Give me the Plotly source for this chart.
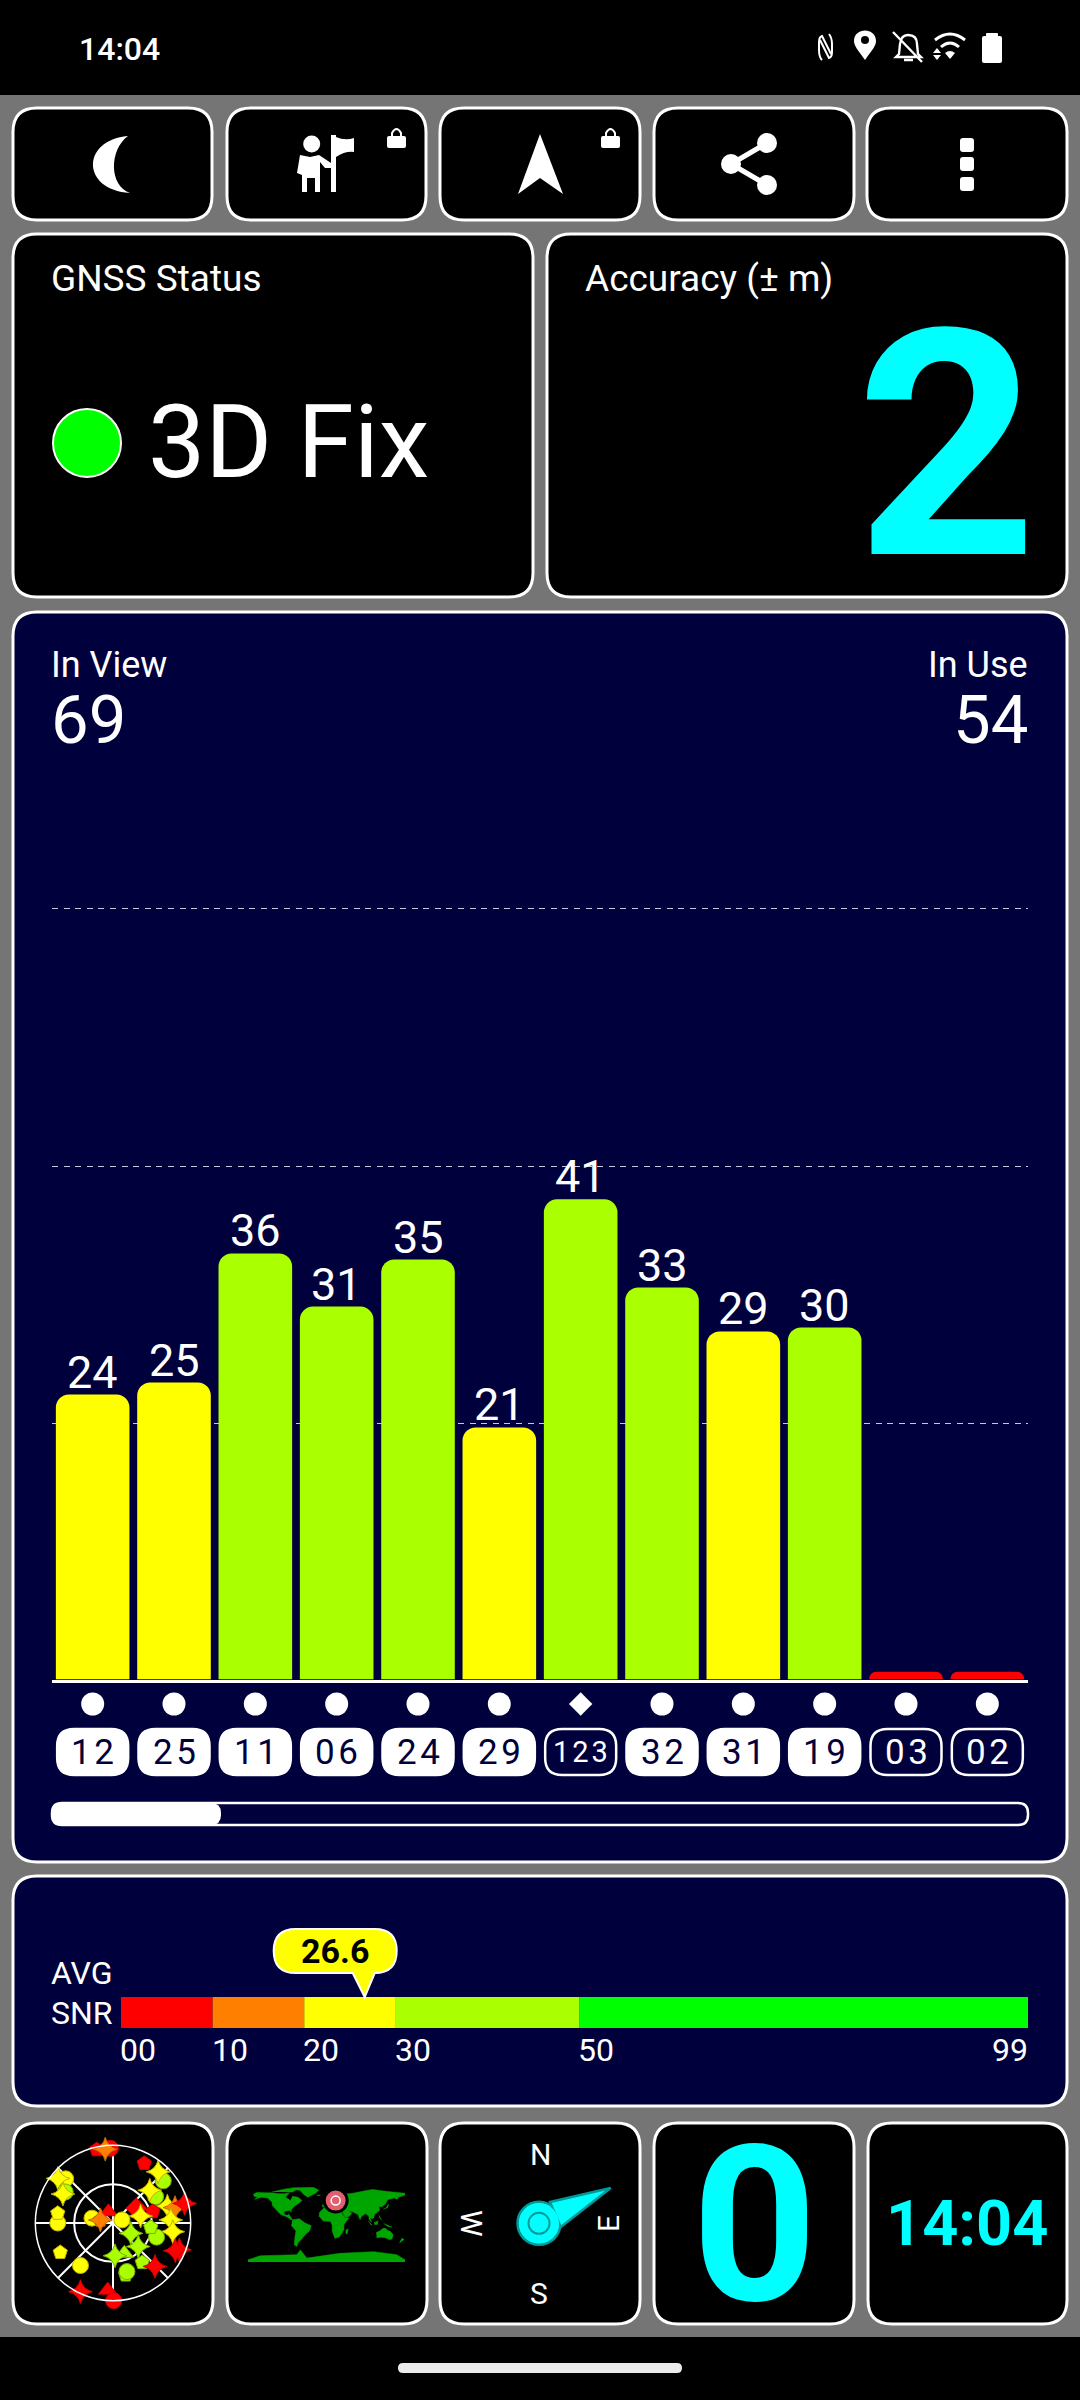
import plotly.graph_objects as go

# bar chart values
prn_labels = ["12", "25", "11", "06", "24", "29", "123", "32", "31", "19", "03", "02"]
snr_values = [24.05, 25.06, 35.95, 31.47, 35.44, 21.27, 40.52, 33.08, 29.37, 29.7, 0.65, 0.65]
snr_labels = ["24", "25", "36", "31", "35", "21", "41", "33", "29", "30", "", ""]
bar_colors = ["#ffff00", "#ffff00", "#aaff00", "#aaff00", "#aaff00", "#ffff00",
              "#aaff00", "#aaff00", "#ffff00", "#aaff00", "#ff0000", "#ff0000"]
in_use = [True, True, True, True, True, True, False, True, True, True, False, False]
sat_symbols = ["circle"] * 6 + ["diamond"] + ["circle"] * 5
grid_values = [21.6, 43.3, 65.1]

# average snr scale
avg_snr = 26.6
scale_start = [0, 10, 20, 30, 50]
scale_len = [10, 10, 10, 20, 49]
scale_colors = ["#ff0000", "#ff8000", "#ffff00", "#aaff00", "#00ff00"]
scale_ticks = [0, 10, 20, 30, 50, 99]
scale_tick_text = ["00", "10", "20", "30", "50", "99"]

# sky plot: azimuth, elevation
sky_az = [347.5, 358, 354, 27.7, 50, 41.4, 313, 309, 303, 300, 58.3, 48.3, 72.7, 76, 74.7,
          338, 58, 74, 270, 280, 283, 283, 283, 71, 76, 87, 98.3, 108, 96.6, 120, 133,
          159.5, 176.5, 143.5, 166.3, 164, 112, 114, 136, 240.8, 217.4, 205.4, 184.5, 179.5]
sky_el = [3, 3.5, 4, 12, 14, 11, 15, 8, 24, 23, 32, 33, 24, 16, 4,
          76, 58, 42, 26, 25, 65, 75, 75, 79, 57, 23, 20, 37, 46, 66, 50,
          52.5, 52, 33, 28, 31.5, 7, 11, 20, 20, 28, 2, 12, 0]
sky_sym = ["pentagon", "circle", "star-diamond", "pentagon", "circle", "star-diamond", "circle", "star-diamond",
           "circle", "star-diamond", "circle", "star-diamond", "star-diamond", "star-diamond", "star-diamond",
           "triangle-up", "diamond", "pentagon", "circle", "pentagon", "circle", "pentagon", "star-diamond",
           "circle", "star-diamond", "star-diamond", "star-diamond", "circle", "pentagon", "star-diamond", "star-diamond",
           "triangle-up", "star-diamond", "pentagon", "pentagon", "circle", "star-diamond", "star-diamond", "star-diamond",
           "pentagon", "circle", "star-diamond", "triangle-up", "circle"]
sky_col = ["#ff0000", "#ff0000", "#ff8000", "#ff0000", "#aaff00", "#ffff00", "#ffff00", "#ffff00",
           "#aaff00", "#ffff00", "#aaff00", "#ffff00", "#ffff00", "#ff8000", "#ff0000",
           "#ff0000", "#ff0000", "#ff0000", "#ffff00", "#ffff00", "#ffff00", "#ff8000", "#ff8000",
           "#ffff00", "#ffff00", "#ffff00", "#ffff00", "#aaff00", "#aaff00", "#aaff00", "#aaff00",
           "#aaff00", "#aaff00", "#aaff00", "#aaff00", "#aaff00", "#ff0000", "#ff0000", "#ff0000",
           "#ffff00", "#ffff00", "#ff0000", "#ff0000", "#ff0000"]
edge_col = {"#ff0000": "#d00000", "#ff8000": "#c06800", "#ffff00": "#c0b000", "#aaff00": "#78b000"}

# world map outline, rough lon/lat
map_lon = [-168, -160, -140, -125, -110, -95, -85, -94, -82, -78, -65, -56, -65, -75, -81, -81, -84, -97, -97, -90, -87, -83, -78, -82, -90, -105, -112, -118, -124, -125, -135, -150, -165, -158, -166, None,
           -125, -100, -75, -62, -78, -95, None,
           -73, -60, -30, -18, -25, -43, -52, -60, None,
           -78, -62, -50, -35, -39, -48, -58, -65, -68, -74, -72, -70, -81, None,
           -17, -16, -6, 10, 11, 22, 32, 37, 43, 51, 40, 40, 35, 28, 19, 13, 13, 9, -8, None,
           -9, -9, 0, -4, 8, 5, 15, 28, 40, 60, 80, 105, 140, 180, 180, 165, 162, 155, 140, 135, 127, 120, 122, 110, 108, 104, 100, 103, 98, 97, 90, 80, 77, 72, 62, 50, 58, 52, 43, 35, 36, 27, 23, 20, 13, 18, 12, 3, 0, -5, None,
           95, 105, 100, None, 109, 118, 117, 110, None, 131, 150, 140, None, 120, 126, 121, None, 130, 141, 142, 138, None,
           -5, 1, -3, -6, None, -23, -14, -18, None, 44, 50, 47, 44, None, 172, 178, 167, None,
           114, 122, 130, 136, 140, 146, 153, 150, 144, 135, 125, 115, None,
           -180, -152, -68, -60, -45, 31, 108, 161, 180, 180, -180]
map_lat = [66, 71, 70, 70, 68, 68, 70, 60, 52, 62, 60, 52, 45, 38, 31, 25, 30, 27, 20, 18, 21, 15, 8, 8, 14, 20, 28, 33, 40, 49, 58, 60, 55, 59, 62, None,
           72, 78, 82, 82, 72, 72, None,
           78, 82, 83, 76, 69, 60, 66, 75, None,
           8, 10, 1, -6, -18, -26, -38, -45, -54, -50, -30, -18, -5, None,
           15, 25, 35, 37, 33, 32, 31, 20, 12, 12, -3, -15, -24, -33, -35, -18, -5, 4, 5, None,
           37, 43, 44, 48, 54, 60, 68, 71, 67, 69, 73, 78, 73, 69, 65, 60, 55, 58, 54, 44, 38, 38, 30, 20, 12, 10, 13, 2, 8, 16, 22, 15, 8, 20, 25, 30, 23, 16, 13, 28, 36, 37, 38, 40, 45, 40, 42, 43, 39, 36, None,
           5, -5, -2, None, 1, 5, -3, -3, None, -1, -9, -8, None, 18, 8, 13, None, 32, 36, 44, 37, None,
           50, 52, 58, 56, None, 65, 65, 63, None, -16, -14, -25, -24, None, -35, -38, -46, None,
           -22, -18, -12, -12, -17, -19, -27, -37, -38, -34, -33, -34, None,
           -85, -75.7, -73, -62, -81, -70, -66, -73, -85, -90, -90]
here_lon = [21]
here_lat = [52]

HAIR = "\u200a"


def rrect(x0, y0, x1, y1, r):
    return (f"M{x0 + r},{y0} L{x1 - r},{y0} Q{x1},{y0} {x1},{y0 + r} L{x1},{y1 - r} Q{x1},{y1} {x1 - r},{y1} "
            f"L{x0 + r},{y1} Q{x0},{y1} {x0},{y1 - r} L{x0},{y0 + r} Q{x0},{y0} {x0 + r},{y0} Z")


shapes = []
annos = []


def box(x0, y0, x1, y1, fill="black", r=24):
    shapes.append(dict(type="path", path=rrect(x0, y0, x1, y1, r), xref="x", yref="y", layer="below",
                       fillcolor=fill, line=dict(color="white", width=3)))


def icon(path, fill="white", line=None, width=0):
    shapes.append(dict(type="path", path=path, xref="x", yref="y", fillcolor=fill,
                       line=dict(color=line or "rgba(0,0,0,0)", width=width)))


def stroke(path, width=2.5, color="white"):
    shapes.append(dict(type="path", path=path, xref="x", yref="y", line=dict(color=color, width=width, )))


def dot(cx, cy, r, fill="white", line=None, width=0):
    shapes.append(dict(type="circle", x0=cx - r, x1=cx + r, y0=cy - r, y1=cy + r, xref="x", yref="y",
                       fillcolor=fill, line=dict(color=line or "rgba(0,0,0,0)", width=width)))


def label(text, x, y, size, color="white", anchor="left", weight=400, angle=0, xref="x"):
    shift = {"left": -3, "right": 2, "center": 0}[anchor]
    annos.append(dict(text=text, x=x, y=y, xref=xref, yref="y", showarrow=False, xanchor=anchor, yanchor="middle",
                      xshift=shift, textangle=angle, font=dict(family="Roboto", size=size, color=color, weight=weight)))


# page background
shapes.append(dict(type="rect", x0=0, x1=1080, y0=95, y1=2337, xref="x", yref="y", layer="below",
                   fillcolor="#757575", line_width=0))

for x0, x1 in [(13, 212), (227, 426), (440, 640), (654, 854), (867, 1067)]:
    box(x0, 108, x1, 220)
box(13, 234, 533, 597)
box(547, 234, 1067, 597)
box(13, 612, 1067, 1862, fill="#00003c")
box(13, 1876, 1067, 2106, fill="#00003c")
for x0, x1 in [(13, 213), (227, 427), (440, 640), (654, 854), (868, 1067)]:
    box(x0, 2123, x1, 2324)

# status bar
label("14:04", 80, 49, 32, weight=500)
stroke("M822,60 Q819,57 819,50 L819,42 Q819,37 822,36 L831,54 M829,34 Q832,38 832,44 L832,52 Q832,57 829,58 L820,40", width=2)
icon("M865,60 C858,50 854,46 854,41 C854,27 876,27 876,41 C876,46 872,50 865,60 Z")
dot(865, 40, 4, fill="black")
stroke("M899,54 L900,44 Q901,35 908,35 Q917,35 917,44 L918,54 L921,57 L896,57 Z M904,60 L913,60 M893,32 L922,62", width=2.4)
stroke("M935,40 Q950,28 965,40 M941,47 Q950,39 959,47", width=3)
icon("M945,53 Q950,49 955,53 L950,59 Z")
icon("M937,48 L941,53 L933,53 Z M933,55 L941,55 L937,60 Z")
icon(rrect(986, 33, 998, 40, 1))
icon(rrect(982, 36, 1002, 63, 2))

# toolbar icons
icon("M128,136 C81,140 81,190 130,193 C109,186 109,150 128,136 Z")
dot(311.7, 144, 8.5)
icon("M300,155 L310,157 L319,155 L331,163 L331,168 L325,168 L320,162 L320,192 L315,192 L315,178 L307,178 L307,192 L302,192 L302,175 L297,173 Z")
icon("M331,135 L336,135 L336,192 L331,192 Z M336,137 Q345,141 354,138 L354,152 Q345,151 336,157 Z")
for lx in [387, 601]:
    icon(rrect(lx, 136, lx + 19, 148, 2))
    stroke(f"M{lx + 5},137 L{lx + 5},133 Q{lx + 9.5},125 {lx + 14},133 L{lx + 14},137", width=2)
icon("M540,134 L563,194 L540,178 L518,194 Z")
stroke("M767,143 L731,164 L767,185", width=5)
dot(767, 143, 10)
dot(731, 164, 10)
dot(767, 185, 10)
for dy in [145, 164, 184]:
    icon(rrect(960, dy - 7, 974, dy + 7, 3))

# status panels
label("GNSS Status", 52, 278, 37)
label("Accuracy (± m)", 586, 278, 37)
dot(87, 443, 34, fill="#00ff00", line="white", width=2)
label("3D Fix", 149, 442, 102)
label("2", 1037, 446, 316, color="#00ffff", anchor="right", weight=700)

# in view / in use
label("In View", 52, 665, 36)
label("69", 52, 720, 67)
label("In Use", 1028, 665, 36, anchor="right")
label("54", 1028, 720, 67, anchor="right")

# scrollbar
shapes.append(dict(type="path", path=rrect(52, 1803, 1028, 1825, 10), xref="x", yref="y",
                   line=dict(color="white", width=2.5)))
icon(rrect(52, 1803, 221, 1825, 10))

# labels over the bars
for i, t in enumerate(snr_labels):
    if t:
        annos.append(dict(text=t, x=i, y=snr_values[i], xref="x2", yref="y2", showarrow=False,
                          xanchor="center", yanchor="bottom", yshift=-6,
                          font=dict(family="Roboto", size=45, color="white")))

# chips under the bars
for i, prn in enumerate(prn_labels):
    shapes.append(dict(type="path", path=rrect(-35.5, 1729, 35.5, 1775, 17), xref="x2", yref="y",
                       xsizemode="pixel", xanchor=i, fillcolor="white" if in_use[i] else "#00003c",
                       line=dict(color="white", width=2.5)))
    label(HAIR.join(prn), i, 1752, 35 if len(prn) < 3 else 29, color="#00003c" if in_use[i] else "white",
          anchor="center", xref="x2")

# avg snr
label("AVG", 52, 1973, 32)
label("SNR", 52, 2013, 32)
for v, t in zip(scale_ticks, scale_tick_text):
    label(t, v, 2050, 32, anchor="right" if v == 99 else "left", xref="x4")
shapes.append(dict(type="path", xref="x4", yref="y", xsizemode="pixel", xanchor=avg_snr,
                   path="M-69,1929 L10,1929 Q32,1929 32,1951 Q32,1973 10,1973 L10,1973 L0,1997 L-12,1973 "
                        "L-69,1973 Q-91,1973 -91,1951 Q-91,1929 -69,1929 Z",
                   fillcolor="#ffff00", line=dict(color="white", width=2)))
annos.append(dict(text=f"{avg_snr}", x=avg_snr, y=1951, xref="x4", yref="y", showarrow=False, xshift=-30,
                  font=dict(family="Roboto", size=34, color="black", weight=700)))

# compass
label("N", 540, 2154, 30, anchor="center")
label("S", 539, 2293, 30, anchor="center")
label("W", 472, 2223, 30, anchor="center", angle=90)
label("E", 608, 2224, 30, anchor="center", angle=-90)
dot(539, 2223.3, 21.5, fill="#00ffff", line="#009999", width=2.5)
icon("M550,2202 L610.7,2188 L560.7,2227 Z", fill="#00ffff", line="#009999", width=2.5)
dot(539, 2223.3, 20, fill="#00ffff")
dot(539, 2223.3, 10.5, fill="#00ffff", line="#009999", width=2)

# last two tiles and the nav pill
label("0", 754, 2225, 218, color="#00ffff", anchor="center", weight=700)
label("14:04", 967, 2223, 63, color="#00ffff", anchor="center", weight=700)
icon(rrect(398, 2363, 682, 2373, 5), fill="#ebebeb")

fig = go.Figure()

# needs one trace on the page axes so they exist
fig.add_trace(go.Scatter(x=[0], y=[0], mode="markers", marker=dict(opacity=0), xaxis="x", yaxis="y", hoverinfo="skip"))

fig.add_trace(go.Bar(x=list(range(12)), y=snr_values, width=0.905, xaxis="x2", yaxis="y2",
                     marker=dict(color=bar_colors, cornerradius=13, line_width=0)))
fig.add_trace(go.Scatter(x=list(range(12)), y=[1704] * 12, mode="markers", xaxis="x2", yaxis="y",
                         marker=dict(symbol=sat_symbols, size=[18 if s == "diamond" else 23 for s in sat_symbols],
                                     color="white", line_width=0, opacity=1)))

for s, n, c in zip(scale_start, scale_len, scale_colors):
    fig.add_trace(go.Bar(y=[0.5], x=[n], base=[s], width=1, orientation="h", xaxis="x4", yaxis="y4",
                         marker=dict(color=c, line_width=0)))

fig.add_trace(go.Scatterpolar(r=sky_el, theta=sky_az, mode="markers", subplot="polar",
                              marker=dict(symbol=sky_sym, color=sky_col, opacity=1,
                                          size=[17 if s == "star-diamond" else 15 if s == "pentagon" else 16 for s in sky_sym],
                                          line=dict(color=[edge_col[c] for c in sky_col], width=1))))

fig.add_trace(go.Scatter(x=map_lon, y=map_lat, mode="lines", fill="toself", fillcolor="#00a600",
                         line=dict(color="#00a600", width=0.5), xaxis="x3", yaxis="y3"))
fig.add_trace(go.Scatter(x=here_lon, y=here_lat, mode="markers", xaxis="x3", yaxis="y3", cliponaxis=False,
                         marker=dict(size=23, color="#e06070", line=dict(color="black", width=3))))
fig.add_trace(go.Scatter(x=here_lon, y=here_lat, mode="markers", xaxis="x3", yaxis="y3", cliponaxis=False,
                         marker=dict(size=9, symbol="circle-open", color="white", line=dict(color="white", width=1.5))))

hidden = dict(visible=False, showgrid=False, zeroline=False, fixedrange=True)

fig.update_layout(
    width=1080, height=2400, margin=dict(l=0, r=0, t=0, b=0), showlegend=False,
    paper_bgcolor="black", plot_bgcolor="rgba(0,0,0,0)", barmode="overlay",
    xaxis=dict(hidden, range=[0, 1080], domain=[0, 1]),
    yaxis=dict(hidden, range=[2400, 0], domain=[0, 1]),
    xaxis2=dict(domain=[52 / 1080, 1028 / 1080], range=[-0.5, 11.5], anchor="y2", showgrid=False, zeroline=False,
                showticklabels=False, ticks="", showline=True, linecolor="white", linewidth=3),
    yaxis2=dict(domain=[1 - 1679.5 / 2400, 1 - 700 / 2400], range=[0, 979.5 / 11.85], anchor="x2", zeroline=False,
                showticklabels=False, ticks="", tickvals=grid_values, gridcolor="#c8c8dc", gridwidth=1,
                griddash="6px,5.6px"),
    xaxis3=dict(hidden, domain=[248 / 1080, 405 / 1080], range=[-180, 180], anchor="y3"),
    yaxis3=dict(hidden, domain=[1 - 2262 / 2400, 1 - 2187 / 2400], range=[-90, 83.5], anchor="x3"),
    xaxis4=dict(hidden, domain=[121 / 1080, 1028 / 1080], range=[0, 99], anchor="y4"),
    yaxis4=dict(hidden, domain=[1 - 2028 / 2400, 1 - 1997 / 2400], range=[0, 1], anchor="x4"),
    polar=dict(
        domain=dict(x=[(113 - 77.7) / 1080, (113 + 77.7) / 1080], y=[1 - (2223 + 77.7) / 2400, 1 - (2223 - 77.7) / 2400]),
        bgcolor="rgba(0,0,0,0)",
        radialaxis=dict(range=[90, 0], tickvals=[45], showticklabels=False, ticks="", showline=False,
                        gridcolor="white", gridwidth=1.5),
        angularaxis=dict(direction="clockwise", rotation=90, tickvals=[0, 45, 90, 135, 180, 225, 270, 315],
                         showticklabels=False, ticks="", gridcolor="white", gridwidth=1.5,
                         showline=True, linecolor="white", linewidth=1.5),
    ),
    shapes=shapes, annotations=annos,
)

fig.write_html("out.html", config={"displayModeBar": False},
               post_script="document.body.style.margin='0';document.body.style.background='black';"
                           "document.documentElement.style.overflow='hidden';")
